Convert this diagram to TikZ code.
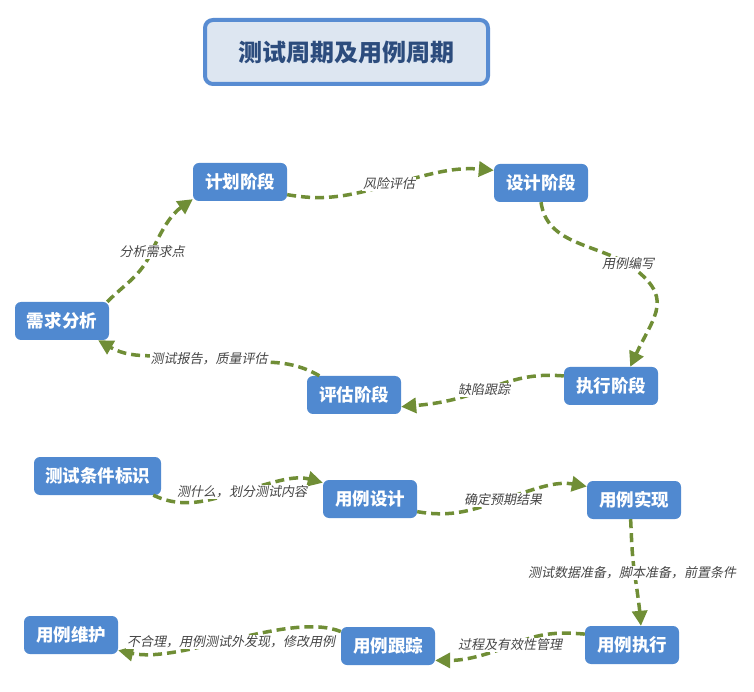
\documentclass[tikz,border=0pt]{standalone}
\usepackage{fontspec}
\usetikzlibrary{arrows.meta}
\newfontfamily\cjk{Noto Sans CJK SC}
\newfontfamily\cjkit{Noto Sans CJK SC}[FakeSlant=0.2]
\definecolor{nodeblue}{RGB}{80,137,208}
\definecolor{arrowgreen}{RGB}{112,142,54}
\definecolor{lblgray}{RGB}{70,70,70}
\definecolor{titlefill}{RGB}{221,230,241}
\definecolor{titleborder}{RGB}{88,140,210}
\definecolor{titletext}{RGB}{44,76,125}
\tikzset{
  stagebox/.style={rectangle, rounded corners=6pt, fill=nodeblue, text=white,
    font=\cjk\bfseries\fontsize{17.5}{20}\selectfont, minimum width=94pt,
    minimum height=38pt, inner xsep=11pt, inner ysep=0pt},
  lbl/.style={fill=white, text=lblgray, font=\cjkit\fontsize{13}{15}\selectfont,
    inner sep=1pt},
  conn/.style={draw=arrowgreen, line width=3.5pt, dash pattern=on 9pt off 5pt,
    -{Triangle[length=15pt,width=15pt,fill=arrowgreen]}},
  titlebox/.style={rectangle, rounded corners=8pt, draw=titleborder, line width=4pt,
    fill=titlefill, text=titletext, font=\cjk\bfseries\fontsize{24}{26}\selectfont,
    minimum width=283pt, minimum height=64pt}
}
\begin{document}
\begin{tikzpicture}[x=1pt,y=1pt]
\fill[white] (0,0) rectangle (754,691);
\useasboundingbox (0,0) rectangle (754,691);

\node[titlebox] (title) at (346.5,639) {测试周期及用例周期};

% upper cycle
\node[stagebox] (jh) at (240,509) {计划阶段};
\node[stagebox] (sj) at (541,508) {设计阶段};
\node[stagebox] (xq) at (62,370) {需求分析};
\node[stagebox] (pg) at (354,296) {评估阶段};
\node[stagebox] (zx) at (611,305) {执行阶段};

% lower flow
\node[stagebox] (tj) at (97.5,215) {测试条件标识};
\node[stagebox] (yd) at (370,192) {用例设计};
\node[stagebox] (ys) at (634,191) {用例实现};
\node[stagebox] (ye) at (632,46) {用例执行};
\node[stagebox] (yg) at (388,45) {用例跟踪};
\node[stagebox] (yw) at (71,56) {用例维护};

% crossing points under the labels
\coordinate (c1) at (389,506);
\coordinate (c2) at (628,427);
\coordinate (c3) at (484,301);
\coordinate (c4) at (209,332);
\coordinate (c5) at (151,438);
\coordinate (c6) at (247,201.5);
\coordinate (c7) at (507,193);
\coordinate (c8) at (634,122);
\coordinate (c9) at (510,45);

\draw[conn] (jh.-15) to[out=-10,in=195] (c1) to[out=15,in=175] (sj.165);
\draw[conn] (sj.south) to[out=-82,in=150] (c2) to[out=-35,in=65,looseness=1.45] (zx.45);
\draw[conn] (zx.168) to[out=175,in=20] (c3) to[out=200,in=5] (pg.-14);
\draw[conn] (pg.151) to[out=150,in=-10] (c4) to[out=170,in=-30] (xq.-28);
\draw[conn] (xq.23) to[out=45,in=245] (c5) to[out=65,in=215] (jh.200);

\draw[conn] (tj.-19) to[out=-25,in=195] (c6) to[out=15,in=165] (yd.161);
\draw[conn] (yd.-15) to[out=-10,in=200] (c7) to[out=18,in=170] (ys.164);
\draw[conn] (ys.260) to[out=-87,in=97] (c8) to[out=-82,in=95] (ye.65);
\draw[conn] (ye.167) to[out=175,in=25] (c9) to[out=200,in=0] (yg.-17);
\draw[conn] (yg.163) .. controls (290,80) and (180,27) .. (yw.-18);

% labels
\node[lbl] (l1) at (389,507) {风险评估};
\node[lbl] (l2) at (628,427) {用例编写};
\node[lbl] (l3) at (484,301) {缺陷跟踪};
\node[lbl] (l4) at (209,332) {测试报告，质量评估};
\node[lbl] (l5) at (152,439) {分析需求点};
\node[lbl] (l6) at (242,199) {测什么，划分测试内容};
\node[lbl] (l7) at (503,191) {确定预期结果};
\node[lbl] (l8) at (632,118) {测试数据准备，脚本准备，前置条件};
\node[lbl] (l9) at (510,46) {过程及有效性管理};
\node[lbl] (l10) at (231,49) {不合理，用例测试外发现，修改用例};
\end{tikzpicture}
\end{document}
